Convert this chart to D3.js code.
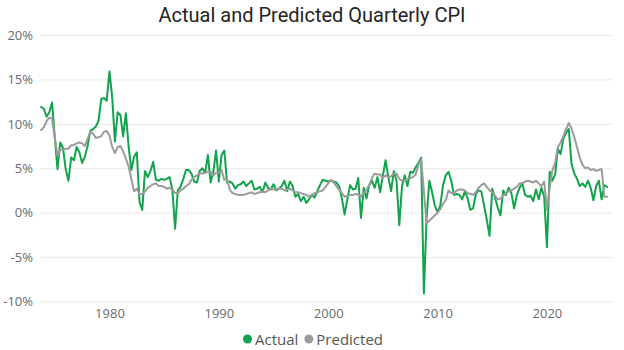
<!DOCTYPE html>
<html>
<head>
<meta charset="utf-8">
<script src="https://cdn.jsdelivr.net/npm/d3@7"></script>
<style>
  body { margin: 0; background: #fff; }
  svg { display: block; }
</style>
</head>
<body>
<div id="chart"></div>
<script>
// quarterly series, first quarter below, one value per quarter (percent)
var startYear = 1973.75;
var quarterStep = 0.25;

var actual = [
  11.9, 11.7, 10.8, 11.3, 12.4, 8.5, 4.9, 7.9, 7.3, 4.9,
  3.6, 6.2, 5.9, 7.4, 6.8, 5.6, 6.3, 7.5, 9.2, 9.4,
  9.7, 10.3, 12.8, 12.9, 12.6, 15.9, 13.0, 8.0, 11.3, 11.0,
  8.6, 11.2, 7.5, 4.8, 6.3, 6.8, 1.2, 0.3, 4.7, 4.0,
  4.7, 5.7, 3.7, 3.6, 3.8, 3.7, 3.8, 4.0, 2.6, -1.8,
  2.5, 2.9, 3.8, 4.8, 4.8, 4.4, 3.5, 3.4, 4.7, 5.0,
  4.5, 6.5, 3.4, 4.6, 7.0, 3.5, 6.5, 7.0, 3.4, 3.5,
  3.3, 2.7, 3.1, 3.2, 3.5, 3.0, 3.3, 3.6, 2.6, 2.7,
  2.9, 2.3, 3.4, 2.8, 2.6, 3.2, 2.5, 2.7, 3.0, 3.6,
  2.4, 3.5, 3.0, 1.8, 2.1, 1.3, 1.8, 1.1, 1.5, 2.0,
  1.7, 2.4, 3.1, 3.7, 3.6, 3.5, 3.6, 3.5, 3.4, 3.0,
  1.6, -0.2, 1.5, 3.1, 2.6, 2.7, 3.9, -0.6, 2.8, 1.6,
  3.1, 3.6, 2.8, 4.0, 2.3, 4.2, 5.9, 4.0, 2.4, 4.7,
  3.6, -1.4, 3.0, 4.2, 3.0, 4.6, 4.5, 5.1, 5.6, 6.2,
  -9.1, -0.5, 3.6, 2.3, 0.8, 0.1, 0.8, 3.1, 4.2, 4.6,
  3.6, 2.0, 2.1, 2.0, 1.5, 2.4, 1.6, 0.3, 0.5, 2.1,
  2.5, 2.4, 0.8, -0.8, -2.6, 2.7, 1.7, 0.6, -0.3, 2.5,
  2.0, 2.8, 2.2, 0.5, 2.0, 2.8, 3.3, 2.0, 1.8, 1.9,
  1.3, 2.6, 1.5, 2.8, 1.8, -3.9, 4.6, 3.6, 4.3, 7.2,
  6.6, 8.3, 9.0, 9.4, 5.5, 4.4, 3.8, 3.0, 3.3, 2.9,
  3.6, 2.8, 1.4, 3.0, 3.6, 1.5, 3.1, 2.9
];

var predicted = [
  9.3, 9.6, 10.3, 10.7, 10.6, 8.5, 6.4, 7.1, 7.1, 7.2,
  7.2, 7.6, 7.6, 7.8, 7.9, 7.8, 7.5, 8.3, 9.1, 8.9,
  8.4, 8.5, 8.6, 9.1, 9.2, 8.7, 7.4, 6.7, 7.4, 7.5,
  6.9, 6.1, 5.2, 3.8, 2.4, 2.7, 2.1, 2.1, 2.4, 2.8,
  3.0, 3.2, 3.3, 3.0, 3.0, 2.9, 2.7, 2.8, 2.6, 2.2,
  2.2, 2.5, 2.7, 3.0, 3.2, 3.7, 4.0, 4.2, 4.4, 4.4,
  4.5, 4.6, 4.6, 4.2, 4.5, 4.5, 4.8, 3.7, 3.8, 2.6,
  2.2, 2.1, 2.0, 2.0, 2.0, 2.1, 2.2, 2.3, 2.1, 2.2,
  2.3, 2.4, 2.3, 2.5, 2.7, 2.6, 2.6, 2.7, 2.7, 2.5,
  2.6, 2.7, 2.5, 2.3, 2.3, 2.2, 2.1, 2.0, 1.8, 2.0,
  2.2, 2.3, 2.4, 2.5, 2.9, 3.3, 3.7, 3.4, 3.0, 2.6,
  2.2, 1.8, 1.9, 2.0, 2.0, 2.1, 2.0, 1.8, 2.2, 2.6,
  3.1, 3.9, 4.4, 4.3, 4.3, 3.9, 4.2, 4.0, 4.1, 4.4,
  4.4, 3.8, 3.6, 3.6, 3.8, 3.9, 4.0, 4.3, 5.4, 6.0,
  2.4, -1.2, -0.9, -0.6, -0.3, 0.0, 0.4, 1.0, 1.4, 2.5,
  2.2, 2.2, 2.5, 2.6, 2.6, 2.5, 2.2, 2.1, 2.0, 2.3,
  2.8, 3.1, 3.3, 2.9, 2.5, 2.3, 1.9, 1.5, 1.6, 1.9,
  2.2, 2.4, 2.5, 2.7, 2.9, 3.3, 3.3, 3.5, 3.6, 3.5,
  3.4, 3.6, 3.3, 3.0, 3.5, 0.3, 2.8, 4.8, 5.6, 7.4,
  7.9, 8.6, 9.4, 10.1, 9.5, 8.5, 7.4, 6.2, 5.4, 5.0,
  5.1, 4.8, 4.9, 4.7, 4.8, 4.9, 1.8, 1.8
];

var yTicks = [-10, -5, 0, 5, 10, 15, 20];
var xTicks = [1980, 1990, 2000, 2010, 2020];
var seriesNames = ["Actual", "Predicted"];
var seriesColors = ["#12A44C", "#9B9B9B"];

var W = 624, H = 350;
var margin = {top: 35, right: 12, bottom: 48.5, left: 40};
var width = W - margin.left - margin.right,
    height = H - margin.top - margin.bottom;

var svg = d3.select("#chart").append("svg")
    .attr("width", W)
    .attr("height", H);

svg.append("text")
  .attr("x", W / 2)
  .attr("y", 22)
  .attr("text-anchor", "middle")
  .style("font-family", "Roboto, 'DejaVu Sans', sans-serif")
  .style("font-size", "20px")
  .style("fill", "#252423")
  .text("Actual and Predicted Quarterly CPI");

var g = svg.append("g")
    .attr("transform", `translate(${margin.left},${margin.top})`);

var x = d3.scaleLinear()
  .domain([1973.65, 2025.95])
  .range([0, width]);

var y = d3.scaleLinear()
  .domain([-10, 20])
  .range([height, 0]);

var yAxis = d3.axisLeft(y)
  .tickValues(yTicks)
  .tickSize(-width)
  .tickPadding(7)
  .tickFormat(d => d + "%");

var yG = g.append("g").call(yAxis);
yG.select(".domain").remove();
yG.selectAll(".tick line")
  .style("stroke", "#E9E9E9")
  .style("stroke-width", 1);
yG.selectAll(".tick text")
  .style("font-family", "'Open Sans', sans-serif")
  .style("font-size", "13px")
  .style("fill", "#6B6B6B");

var xAxis = d3.axisBottom(x)
  .tickValues(xTicks)
  .tickSize(0)
  .tickPadding(7)
  .tickFormat(d3.format("d"));

var xG = g.append("g")
  .attr("transform", `translate(0,${height})`)
  .call(xAxis);
xG.select(".domain").remove();
xG.selectAll(".tick text")
  .style("font-family", "'Open Sans', sans-serif")
  .style("font-size", "13px")
  .style("fill", "#6B6B6B");

var line = d3.line()
  .x((d, i) => x(startYear + i * quarterStep))
  .y(d => y(d));

[actual, predicted].forEach((values, k) => {
  g.append("path")
    .datum(values)
    .attr("d", line)
    .style("fill", "none")
    .style("stroke", seriesColors[k])
    .style("stroke-width", 2)
    .style("stroke-linejoin", "round")
    .style("stroke-linecap", "round");
});

// legend, centred under the plot
var legend = svg.append("g");
var lx = 0;
seriesNames.forEach((name, k) => {
  var item = legend.append("g").attr("transform", `translate(${lx},0)`);
  item.append("circle")
    .attr("cx", 4.5)
    .attr("cy", 0)
    .attr("r", 4.5)
    .style("fill", seriesColors[k]);
  var t = item.append("text")
    .attr("x", 12)
    .attr("y", 5.5)
    .style("font-family", "'Open Sans', sans-serif")
    .style("font-size", "15px")
    .style("fill", "#555555")
    .text(name);
  lx += 12 + t.node().getComputedTextLength() + 6;
});
legend.attr("transform", `translate(${(W - (lx - 6)) / 2 + 1},${339})`);
</script>
</body>
</html>
